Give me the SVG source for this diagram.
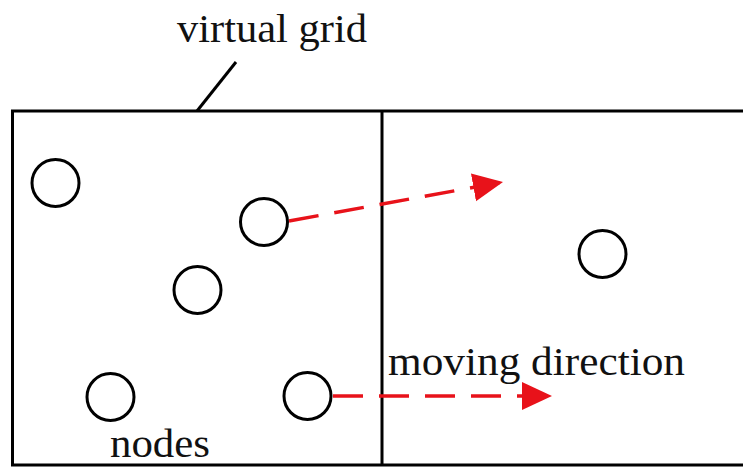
<svg xmlns="http://www.w3.org/2000/svg" width="743" height="467" viewBox="0 0 743 467">
<style>
.grid{fill:none;stroke:#000;stroke-width:3}
.node{fill:#fff;stroke:#000;stroke-width:3}
.move{fill:none;stroke:#e8121a;stroke-width:3.5;stroke-dasharray:30 16}
.lbl{font-family:"Liberation Serif","Times New Roman",serif;font-size:40px;fill:#111}
</style>
<defs>
<marker id="ah" markerUnits="userSpaceOnUse" markerWidth="32" markerHeight="30" refX="30" refY="14" orient="auto">
<path d="M0,0 L30,14 L0,28 Z" fill="#e8121a"/>
</marker>
</defs>
<g id="grid">
<path class="grid" d="M743,111 H12.5 V465 H743"/>
<line class="grid" x1="382" y1="111" x2="382" y2="465"/>
<line class="grid" x1="236" y1="62" x2="197" y2="111"/>
</g>
<g id="connectors">
<line class="move" x1="289" y1="221" x2="503" y2="182" marker-end="url(#ah)"/>
<line class="move" x1="333" y1="396" x2="552" y2="396" marker-end="url(#ah)"/>
</g>
<g id="node1"><circle class="node" cx="55.5" cy="183" r="23.5"/></g>
<g id="node2"><circle class="node" cx="264" cy="222" r="23.5"/></g>
<g id="node3"><circle class="node" cx="197.5" cy="290" r="23.5"/></g>
<g id="node4"><circle class="node" cx="110.5" cy="397" r="23.5"/></g>
<g id="node5"><circle class="node" cx="307.5" cy="396" r="23.5"/></g>
<g id="node6"><circle class="node" cx="602.5" cy="254" r="23.5"/></g>
<g id="labels">
<text class="lbl" x="177" y="42" textLength="190" lengthAdjust="spacingAndGlyphs">virtual grid</text>
<text class="lbl" x="388" y="375" textLength="297" lengthAdjust="spacingAndGlyphs">moving direction</text>
<text class="lbl" x="110" y="457" textLength="100" lengthAdjust="spacingAndGlyphs">nodes</text>
</g>
</svg>
